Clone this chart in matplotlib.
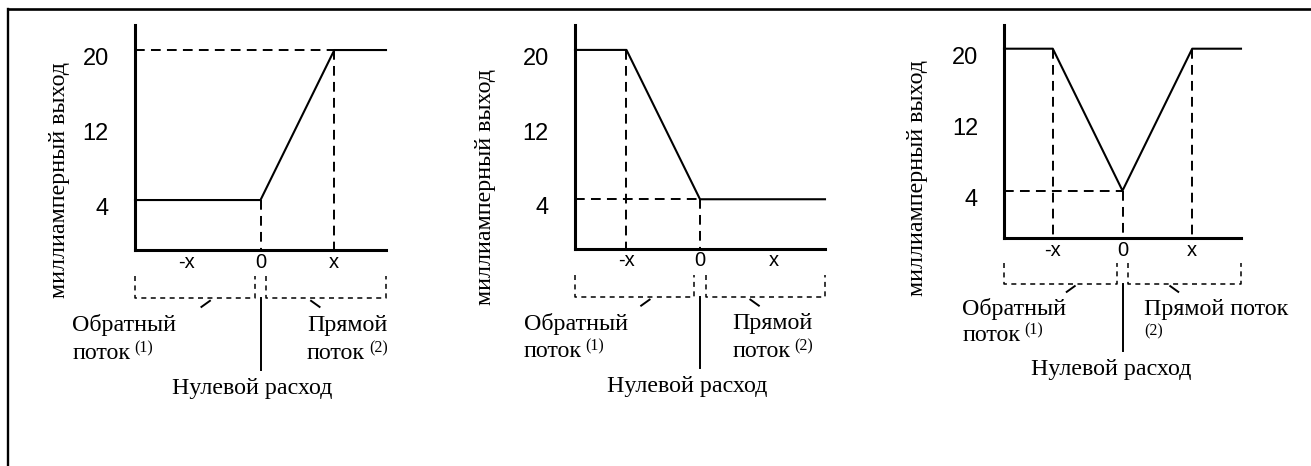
import numpy as np
import matplotlib.pyplot as plt
from matplotlib.lines import Line2D

plt.rcParams['lines.scale_dashes'] = False

W, H, DPI = 1311, 466, 100

# Transfer curves: flow in units of the range "x", output in mA
flow_direct = [-1.7, 0, 1, 1.7]
ma_direct = [4, 4, 20, 20]
flow_reverse = [-1.7, -1, 0, 1.7]
ma_reverse = [20, 20, 4, 4]
flow_bidir = [-1.7, -1, 0, 1, 1.7]
ma_bidir = [20, 20, 4, 20, 20]

# Flow points that get dashed projections (down to the axis / across to the left axis)
vguides_direct = [0, 1]
hguides_direct = [1]
vguides_reverse = [-1, 0]
hguides_reverse = [0]
vguides_bidir = [-1, 0, 1]
hguides_bidir = [0]

ma_ticks = [4, 12, 20]
flow_ticks = [-1, 0, 1]
flow_ticklabels = ['-x', '0', 'x']

ylabel_text = 'миллиамперный выход'
reverse_text = ['Обратный', 'поток']
forward_text = ['Прямой', 'поток']
zero_text = 'Нулевой расход'

XLIM = (-1.7, 1.7)
YLIM = (-1.33, 22.67)
SERIF = 'Liberation Serif'
SANS = 'Liberation Sans'
FS_SERIF = 17.3

fig = plt.figure(figsize=(W / DPI, H / DPI), dpi=DPI)
fig.patch.set_facecolor('white')


def add_axes_px(left, right, top, bottom):
    return fig.add_axes([left / W, 1 - bottom / H, (right - left) / W, (bottom - top) / H])


def superscript(ax, anchor, label):
    ax.annotate(label, xy=(1, 0.5), xycoords=anchor, xytext=(4, 5), textcoords='offset pixels',
                ha='left', va='center', fontsize=11.5, family=SERIF)


def draw_panel(ax, flow, ma, vguides, hguides, ylab_pos, txt_x, forward_one_line=False):
    ax.set_xlim(XLIM)
    ax.set_ylim(YLIM)
    ax.set_facecolor('none')
    for side in ('top', 'right'):
        ax.spines[side].set_visible(False)
    for side in ('left', 'bottom'):
        ax.spines[side].set_linewidth(2.2)
        ax.spines[side].set_capstyle('projecting')
    ax.set_xticks([])
    ax.set_yticks([])

    ax.plot(flow, ma, color='black', lw=1.5, clip_on=False)

    dash = dict(color='black', lw=1.4, ls=(0, (7, 4.5)), clip_on=False)
    for xv in vguides:
        level = np.interp(xv, flow, ma)
        ax.plot([xv, xv], [level, YLIM[0]], **dash)
    for xv in hguides:
        level = np.interp(xv, flow, ma)
        ax.plot([XLIM[0], xv], [level, level], **dash)

    # tick labels
    for v in ma_ticks:
        ax.annotate(str(v), xy=(0, v), xycoords=ax.get_yaxis_transform(),
                    xytext=(-26, -9), textcoords='offset pixels',
                    ha='right', va='center', fontsize=17, family=SANS)
    for v, lab in zip(flow_ticks, flow_ticklabels):
        ax.annotate(lab, xy=(v, 0), xycoords=ax.get_xaxis_transform(),
                    xytext=(0, -12), textcoords='offset pixels',
                    ha='center', va='center', fontsize=14.5, family=SANS)

    ax.text(ylab_pos[0], ylab_pos[1], ylabel_text, rotation=90, ha='center', va='center',
            transform=ax.transAxes, fontsize=FS_SERIF, family=SERIF)

    # flow-direction brackets under the axis
    gap, top, bot = 0.075, -4.1, -6.5
    fine = dict(color='black', lw=1.1, ls=(0, (3.6, 3.2)), clip_on=False)
    ax.plot([XLIM[0], XLIM[0], -gap, -gap], [top, bot, bot, top], **fine)
    ax.plot([gap, gap, XLIM[1], XLIM[1]], [top, bot, bot, top], **fine)
    solid = dict(color='black', lw=1.4, clip_on=False)
    ax.plot([-0.685, -0.80], [-6.75, -7.4], **solid)
    ax.plot([0.685, 0.80], [-6.75, -7.4], **solid)
    ax.plot([0, 0], [bot, -14.1], **solid)

    txt = dict(fontsize=FS_SERIF, family=SERIF, ha='left', va='center')
    xl, xr, xc = txt_x
    ax.text(xl, -9.35, reverse_text[0], **txt)
    t1 = ax.text(xl, -12.35, reverse_text[1], **txt)
    superscript(ax, t1, '(1)')
    if forward_one_line:
        ax.text(xr, -9.35, ' '.join(forward_text), **txt)
        ax.text(xr, -11.8, '(2)', fontsize=11.5, family=SERIF, ha='left', va='center')
    else:
        ax.text(xr, -9.35, forward_text[0], **txt)
        t2 = ax.text(xr, -12.35, forward_text[1], **txt)
        superscript(ax, t2, '(2)')
    ax.text(xc, -16.1, zero_text, fontsize=FS_SERIF, family=SERIF, ha='center', va='center')


ax1 = add_axes_px(135, 386, 25, 250)
ax2 = add_axes_px(575, 825, 25, 249)
ax3 = add_axes_px(1004, 1241, 25, 238)

draw_panel(ax1, flow_direct, ma_direct, vguides_direct, hguides_direct,
           (-0.299, 0.311), (-2.55, 0.63, -0.115))
draw_panel(ax2, flow_reverse, ma_reverse, vguides_reverse, hguides_reverse,
           (-0.36, 0.277), (-2.4, 0.44, -0.17))
draw_panel(ax3, flow_bidir, ma_bidir, vguides_bidir, hguides_bidir,
           (-0.363, 0.282), (-2.3, 0.31, -0.16), forward_one_line=True)

# frame around the figure
fig.add_artist(Line2D([8 / W, 1], [1 - 8.5 / H, 1 - 8.5 / H], transform=fig.transFigure,
                      color='black', lw=1.9))
fig.add_artist(Line2D([8 / W, 8 / W], [0, 1 - 8.5 / H], transform=fig.transFigure,
                      color='black', lw=1.7))

fig.savefig('out.png', dpi=DPI)
